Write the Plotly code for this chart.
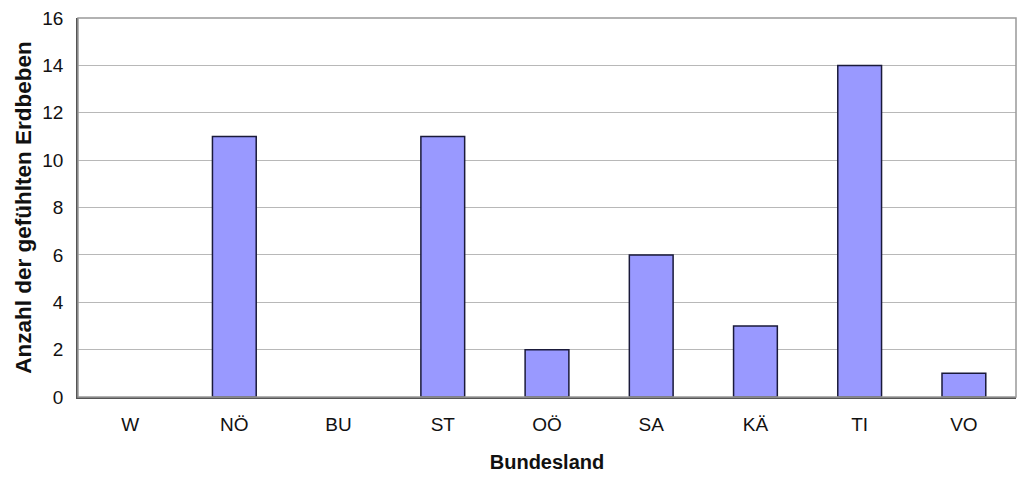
import plotly.graph_objects as go

categories = ["W", "NÖ", "BU", "ST", "OÖ", "SA", "KÄ", "TI", "VO"]
values = [0, 11, 0, 11, 2, 6, 3, 14, 1]
y_ticks = [0, 2, 4, 6, 8, 10, 12, 14, 16]

line_widths = [1.5 if v > 0 else 0 for v in values]

fig = go.Figure()
fig.add_trace(go.Bar(
    x=categories, y=values,
    marker=dict(color="#9999FF", line=dict(color="#1a1a3a", width=line_widths)),
))

font_family = "Liberation Sans, Arial, sans-serif"
fig.update_layout(
    width=1024, height=477,
    margin=dict(l=78, r=8, t=18, b=80),
    paper_bgcolor="white", plot_bgcolor="white",
    bargap=0.58,
    showlegend=False,
    font=dict(family=font_family, size=19, color="#111111"),
    xaxis=dict(
        title=dict(text="<b>Bundesland</b>", font=dict(size=20), standoff=21),
        automargin=False,
        showline=True, linecolor="#555555", linewidth=1.5, mirror=False,
        ticks="", tickfont=dict(size=19), showgrid=False,
        ticklabelstandoff=9,
    ),
    yaxis=dict(
        title=dict(text="<b>Anzahl der gefühlten Erdbeben</b>", font=dict(size=22.5), standoff=4),
        automargin=False,
        range=[0, 16], tickvals=y_ticks,
        showline=True, linecolor="#555555", linewidth=1.5,
        showgrid=True, gridcolor="#b8b8b8", gridwidth=1,
        ticks="", tickfont=dict(size=19), zeroline=False,
        ticklabelstandoff=9,
    ),
    shapes=[dict(type="rect", xref="paper", yref="paper", x0=0, y0=0, x1=1, y1=1,
                 line=dict(color="#999999", width=1.5), layer="above")],
)

fig.write_html("out.html", config={"displayModeBar": False},
               post_script="document.body.style.margin='0';")
